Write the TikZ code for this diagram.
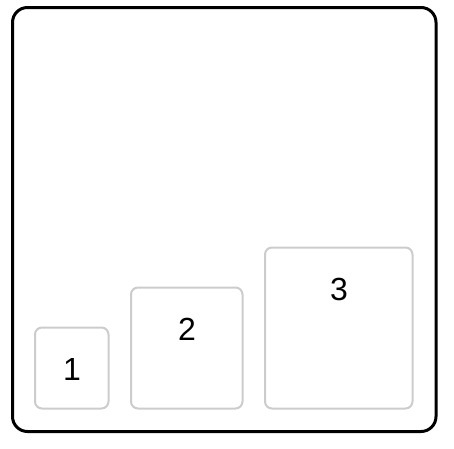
\documentclass[tikz,border=0pt]{standalone}
\usepackage{fontspec}
\setmainfont{Liberation Sans}
\begin{document}
\begin{tikzpicture}[x=1pt,y=-1pt,
  outerbox/.style={draw=black,line width=3pt,rounded corners=15pt},
  itembox/.style={draw=black!20,line width=2pt,rounded corners=7pt},
  lbl/.style={inner sep=0pt,font=\fontsize{32}{36}\selectfont}]
\useasboundingbox (0,0) rectangle (454,448);
\draw[outerbox] (12.5,7.5) rectangle (436,431.5);
\draw[itembox] (35,327.5) rectangle (108.5,408.5);
\draw[itembox] (131,287.5) rectangle (242.5,408.5);
\draw[itembox] (265,247.5) rectangle (412.5,408.5);
\node[lbl] (l1) at (72,369) {1};
\node[lbl] (l2) at (187,329.5) {2};
\node[lbl] (l3) at (339,289) {3};
\end{tikzpicture}
\end{document}
